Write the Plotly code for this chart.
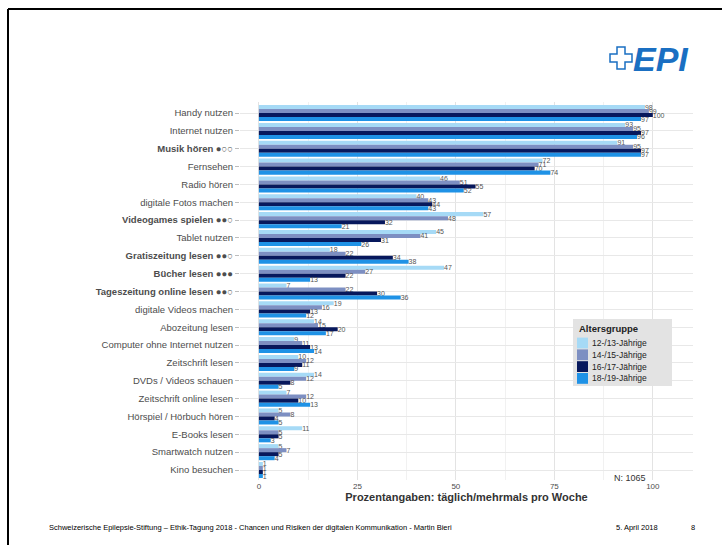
import plotly.graph_objects as go

categories = [
    "Handy nutzen", "Internet nutzen", "Musik hören ●○○", "Fernsehen", "Radio hören",
    "digitale Fotos machen", "Videogames spielen ●●○", "Tablet nutzen",
    "Gratiszeitung lesen ●●○", "Bücher lesen ●●●", "Tageszeitung online lesen ●●○",
    "digitale Videos machen", "Abozeitung lesen", "Computer ohne Internet nutzen",
    "Zeitschrift lesen", "DVDs / Videos schauen", "Zeitschrift online lesen",
    "Hörspiel / Hörbuch hören", "E-Books lesen", "Smartwatch nutzen", "Kino besuchen",
]
bold_categories = ["Musik hören ●○○", "Videogames spielen ●●○", "Gratiszeitung lesen ●●○",
                   "Bücher lesen ●●●", "Tageszeitung online lesen ●●○"]

groups = ["12-/13-Jährige", "14-/15-Jährige", "16-/17-Jährige", "18-/19-Jährige"]
v_12_13 = [98, 93, 91, 72, 46, 40, 57, 45, 18, 47, 7, 19, 14, 9, 10, 14, 7, 5, 11, 5, 1]
v_14_15 = [99, 95, 95, 71, 51, 43, 48, 41, 22, 27, 22, 16, 15, 11, 12, 12, 12, 8, 5, 7, 1]
v_16_17 = [100, 97, 97, 70, 55, 44, 32, 31, 34, 22, 30, 13, 20, 13, 11, 8, 10, 4, 5, 5, 1]
v_18_19 = [97, 96, 97, 74, 52, 43, 21, 26, 38, 13, 36, 12, 17, 14, 9, 5, 13, 5, 3, 4, 1]
series = [v_12_13, v_14_15, v_16_17, v_18_19]
colors = ["#a6daf6", "#7d8fc2", "#07185c", "#1f92e6"]

W, H = 722, 545
ML, MR, MT, MB = 240, 29, 102, 65
PW, PH = W - ML - MR, H - MT - MB

def px(x):
    return (x - ML) / PW

def py(y):
    return (H - MB - y) / PH

fig = go.Figure()
for name, vals, col in zip(groups, series, colors):
    fig.add_trace(go.Bar(
        y=categories, x=vals, name=name, orientation="h",
        marker=dict(color=col, line=dict(width=0)),
        text=[str(v) for v in vals], textposition="outside",
        constraintext="none", cliponaxis=False,
        textfont=dict(size=7, color="#555555", family="Liberation Sans"),
        showlegend=False,
    ))

ticktext = [f"<b>{c}</b>" if c in bold_categories else c for c in categories]

shapes = [
    # slide frame
    dict(type="line", xref="paper", yref="paper", x0=px(8), x1=px(730), y0=py(9), y1=py(9),
         line=dict(color="black", width=2)),
    dict(type="line", xref="paper", yref="paper", x0=px(8), x1=px(8), y0=py(9), y1=py(550),
         line=dict(color="black", width=2)),
]
# logo cross outline
cx, cy, a, b = 621, 58, 4, 11
pts = [(cx - a, cy - b), (cx + a, cy - b), (cx + a, cy - a), (cx + b, cy - a), (cx + b, cy + a),
       (cx + a, cy + a), (cx + a, cy + b), (cx - a, cy + b), (cx - a, cy + a), (cx - b, cy + a),
       (cx - b, cy - a), (cx - a, cy - a)]
path = "M " + " L ".join(f"{px(x):.5f},{py(y):.5f}" for x, y in pts) + " Z"
shapes.append(dict(type="path", xref="paper", yref="paper", path=path,
                   line=dict(color="#1a6fc2", width=1.5), fillcolor="white"))

annotations = [
    dict(text="<b><i>EPI</i></b>", xref="paper", yref="paper", x=px(631), y=py(59),
         xanchor="left", yanchor="middle", showarrow=False,
         font=dict(size=34, color="#1a6fc2", family="Liberation Sans")),
    dict(text="N: 1065", xref="paper", yref="paper", x=px(630), y=py(478),
         xanchor="center", yanchor="middle", showarrow=False,
         font=dict(size=9, color="#333333", family="Liberation Sans")),
    dict(text="Schweizerische Epilepsie-Stiftung – Ethik-Tagung 2018 - Chancen und Risiken der digitalen Kommunikation - Martin Bieri",
         xref="paper", yref="paper", x=px(47), y=py(527), xanchor="left", yanchor="middle",
         showarrow=False, font=dict(size=7.5, color="#000000", family="Liberation Sans")),
    dict(text="5. April 2018", xref="paper", yref="paper", x=px(637), y=py(527),
         xanchor="center", yanchor="middle", showarrow=False,
         font=dict(size=7.5, color="#000000", family="Liberation Sans")),
    dict(text="8", xref="paper", yref="paper", x=px(693), y=py(527),
         xanchor="center", yanchor="middle", showarrow=False,
         font=dict(size=7.5, color="#000000", family="Liberation Sans")),
]

# compact legend (drawn by hand to match the reference's tight spacing)
LX0, LY0, LX1, LY1 = 573, 319, 672, 386
shapes.append(dict(type="rect", xref="paper", yref="paper", x0=px(LX0), x1=px(LX1),
                   y0=py(LY0), y1=py(LY1), line=dict(width=0), fillcolor="#e3e3e3", layer="above"))
annotations.append(dict(text="<b>Altersgruppe</b>", xref="paper", yref="paper",
                        x=px(577), y=py(328), xanchor="left", yanchor="middle", showarrow=False,
                        font=dict(size=9.5, color="#222222", family="Liberation Sans")))
row_h = 11.8
for i, (name, col) in enumerate(zip(groups, colors)):
    yc = 343 + i * row_h
    shapes.append(dict(type="rect", xref="paper", yref="paper", x0=px(577), x1=px(588),
                       y0=py(yc - row_h / 2 + 0.5), y1=py(yc + row_h / 2 - 0.5),
                       line=dict(width=0), fillcolor=col, layer="above"))
    annotations.append(dict(text=name, xref="paper", yref="paper", x=px(590), y=py(yc),
                            xanchor="left", yanchor="middle", showarrow=False,
                            font=dict(size=8.5, color="#222222", family="Liberation Sans")))

fig.update_layout(
    width=W, height=H,
    margin=dict(l=ML, r=MR, t=MT, b=MB),
    paper_bgcolor="white", plot_bgcolor="white",
    barmode="group", bargap=0.1, bargroupgap=0,
    font=dict(family="Liberation Sans", color="#4d4d4d"),
    shapes=shapes, annotations=annotations,
    showlegend=False,
    xaxis=dict(
        range=[-4.8, 110.2], tickvals=[0, 25, 50, 75, 100],
        showgrid=True, gridcolor="#e3e3e3", gridwidth=1,
        minor=dict(tickvals=[12.5, 37.5, 62.5, 87.5], showgrid=True, gridcolor="#f1f1f1"),
        zeroline=False, showline=False,
        tickfont=dict(size=8, color="#4d4d4d"),
        title=dict(text="<b>Prozentangaben: täglich/mehrmals pro Woche</b>",
                   font=dict(size=11, color="#333333"), standoff=3),
    ),
    yaxis=dict(
        categoryorder="array", categoryarray=categories,
        range=[20.56, -0.62],
        tickvals=categories, ticktext=ticktext,
        showgrid=True, gridcolor="#e8e8e8", zeroline=False, showline=False,
        ticks="outside", ticklen=4, tickcolor="#bdbdbd",
        tickfont=dict(size=9.5, color="#4d4d4d"),
    ),
)

fig.write_html("out.html")
